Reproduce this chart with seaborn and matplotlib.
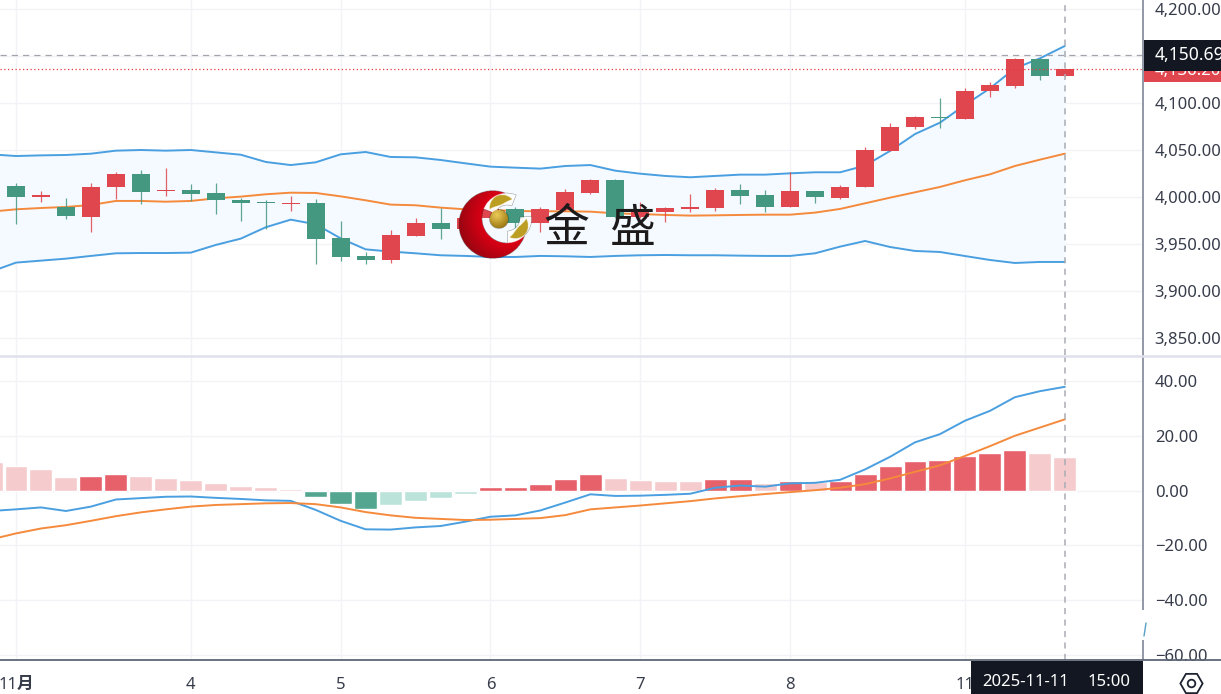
import numpy as np
import pandas as pd
import matplotlib
matplotlib.use('Agg')
import matplotlib.pyplot as plt
import seaborn as sns

W, H = 1221, 694
AXIS_X = 1143

# data
bar_idx = list(range(-1, 43))
opens = [4005, 4012.1, 4000.0, 3989.4, 3978.4, 4010.3, 4024.9, 4006.4, 4007.5, 4004.3, 3996.5,
         3994.4, 3992.2, 3994, 3956.4, 3937.3, 3933, 3958.9, 3972.4, 3966, 3977.3, 3987.3,
         3972.7, 3986.2, 4004.6, 4018.1, 3978.4, 3984, 3987.3, 3988.3, 4007.5, 4001.8,
         3989.7, 4006.4, 3999, 4010.3, 4049, 4074.1, 4085.1, 4083.4, 4112.8, 4118.5, 4146.5, 4128.8]
highs = [4012, 4014.6, 4006.4, 3998.6, 4014.6, 4026.3, 4028.4, 4030.9, 4013.5, 4014.6, 3998.6,
         3996.5, 4001.1, 3997.5, 3974.8, 3941.5, 3964.6, 3978, 3988, 3980, 3989, 3989,
         3989, 4008.5, 4018.8, 4019.2, 3995, 3989, 4003.2, 4010, 4013.5, 4007.5,
         4026.6, 4006.4, 4012.4, 4053.2, 4078.4, 4086.2, 4105.3, 4115.6, 4122.7, 4147.5, 4147.5, 4136.2]
lows = [4003, 3971.7, 3995.1, 3977.0, 3962.4, 3997.9, 3992.9, 4001.1, 3995.4, 3981.6, 3974.8,
        3966, 3985.1, 3928.4, 3931.6, 3929.1, 3929.5, 3958.9, 3955.3, 3964, 3975, 3965.6,
        3963.2, 3985.5, 4003.2, 3977.3, 3977.3, 3973.4, 3984, 3985.1, 3992.9, 3984,
        3989.7, 3994, 3997.5, 4010.3, 4049, 4072, 4073.8, 4082.7, 4106.8, 4116.3, 4124.1, 4128.8]
closes = [4011, 4000.0, 4001.8, 3979.5, 4011.0, 4024.9, 4005.7, 4007.5, 4003.6, 3996.8, 3993.3,
          3993.3, 3994, 3955.7, 3936.2, 3933, 3959.6, 3972.4, 3965.6, 3977.3, 3987.3, 3972,
          3987.3, 4005.3, 4018.1, 3978.4, 3984.4, 3988.3, 3989.4, 4007.5, 4001.1, 3989.7,
          4006.4, 4000, 4011, 4049.7, 4074.9, 4085.1, 4084.1, 4112.4, 4119.2, 4146.8, 4128.8, 4136.2]

boll_upper = [4045.4, 4043.6, 4044.3, 4044.7, 4046.1, 4049.3, 4050, 4049.3, 4050, 4047.5, 4045,
              4037.3, 4034, 4036.9, 4045.4, 4047.9, 4042.6, 4042.2, 4039.4, 4035.8, 4032.3, 4031.2,
              4030.2, 4033, 4034, 4028, 4024.8, 4022.4, 4021, 4022.4, 4023.8, 4023.8,
              4025.2, 4026.3, 4026.3, 4033.4, 4049, 4067, 4079.1, 4097.9, 4115.6, 4136.9, 4147.5, 4160.7]
boll_mid = [3984.4, 3986.9, 3988.3, 3989.4, 3991.5, 3995.8, 3995.8, 3995, 3995.8, 3998.6, 4000.4,
            4002.9, 4004.6, 4004.3, 4000.7, 3996.5, 3991.9, 3991.2, 3988.7, 3986.9, 3986.2, 3985.1,
            3984.8, 3984.8, 3984.4, 3982.6, 3981.9, 3980.9, 3980.2, 3980.5, 3980.9, 3981.2,
            3981.2, 3983.4, 3987.3, 3993.3, 3999.3, 4005, 4010.7, 4017.8, 4024.1, 4033, 4039.7, 4046.1]
boll_lower = [3920.6, 3930.2, 3932.3, 3934.4, 3937.3, 3940.1, 3940.4, 3940.4, 3940.8, 3949, 3955.7,
              3967.8, 3975.9, 3971, 3956, 3944.3, 3941.9, 3940.1, 3938, 3937.3, 3936.2, 3936.2,
              3937.3, 3936.9, 3936.2, 3937.3, 3938, 3938.3, 3938, 3938, 3937.6, 3937.3,
              3937.3, 3940.1, 3947.2, 3953.2, 3946.8, 3942.6, 3941.5, 3937.2, 3933, 3929.8, 3930.9, 3930.9]

macd_hist = [10.4, 9.0, 7.9, 5.1, 5.5, 6.3, 5.5, 4.6, 3.9, 2.8, 1.9,
             1.2, 0.8, -2.3, -5.0, -6.5, -5.2, -3.8, -2.7, -1.2, 1.3, 1.35,
             2.6, 4.4, 6.3, 4.6, 3.9, 3.5, 3.4, 4.2, 4.25, 3.0,
             3.6, 3.3, 3.5, 6.3, 9.0, 10.9, 11.4, 12.8, 13.7, 14.8, 13.7, 12.5]
dif = [-7.4, -6.8, -6.1, -7.4, -5.8, -3.2, -2.7, -2.2, -2.1, -2.6, -3.0,
       -3.5, -3.7, -7.0, -11.0, -14.1, -14.2, -13.4, -12.9, -11.3, -9.5, -9.0,
       -7.2, -4.3, -1.3, -1.9, -1.8, -1.5, -1.1, 1.1, 1.9, 1.5,
       2.7, 2.9, 4.0, 7.8, 12.4, 17.7, 20.7, 25.6, 29.2, 34.2, 36.4, 38.0]
dea = [-17.8, -15.6, -13.8, -12.6, -11, -9.3, -7.9, -6.8, -5.8, -5.2, -4.9,
       -4.6, -4.5, -4.9, -6.1, -7.8, -9, -9.9, -10.3, -10.7, -10.6, -10.3,
       -10, -8.9, -6.8, -6.1, -5.4, -4.6, -3.8, -2.8, -2, -1.2,
       -0.5, 0.2, 1.1, 2.4, 4.5, 6.9, 9.3, 12.7, 16.3, 20.1, 23.1, 26.1]

price_ticks = [3850, 3900, 3950, 4000, 4050, 4100, 4150, 4200]
macd_ticks = [-60, -40, -20, 0, 20, 40]
day_pos = [0, 7, 13, 19, 25, 31, 38]
day_labels = ['11月', '4', '5', '6', '7', '8', '11']
cross_price = 4150.69
last_price = closes[-1]
cross_time = '2025-11-11'
cross_clock = '15:00'

RED = '#e0464e'
GREEN = '#449880'
BLUE = '#4a9fe0'
ORANGE = '#f58a3c'
GRID = '#f1f3f6'
TEXT = '#363c4a'
DARK = '#131722'

sns.set_style('white')
plt.rcParams['font.family'] = ['Noto Sans', 'Noto Sans CJK SC', 'DejaVu Sans']

fig = plt.figure(figsize=(W / 100, H / 100), dpi=100)


def px_axes(top, bottom):
    return fig.add_axes([0, 1 - bottom / H, AXIS_X / W, (bottom - top) / H])


ax = px_axes(0, 355)
ax2 = px_axes(357, 659.5)

# upper panel
ax.fill_between(bar_idx, boll_lower, boll_upper, color='#f4faff', lw=0, zorder=1)
sns.lineplot(x=bar_idx, y=boll_upper, color=BLUE, lw=1.4, ax=ax, zorder=3)
sns.lineplot(x=bar_idx, y=boll_lower, color=BLUE, lw=1.4, ax=ax, zorder=3)
sns.lineplot(x=bar_idx, y=boll_mid, color=ORANGE, lw=1.4, ax=ax, zorder=3)

o = np.array(opens)
c = np.array(closes)
colors = [RED if b >= a else GREEN for a, b in zip(opens, closes)]
ax.vlines(bar_idx, lows, highs, colors=colors, lw=0.9, alpha=0.85, zorder=4)
ax.bar(bar_idx, np.abs(c - o), bottom=np.minimum(o, c), width=0.72, color=colors, lw=0, zorder=5)

ax.axhline(cross_price, color='#a2a5ad', lw=0.9, ls=(0, (5, 4)), zorder=6)
ax.axhline(last_price, color='#e8383f', lw=0.9, ls=(0, (1, 2)), zorder=6)
ax.set_xlim(-0.641, 45.13)
ax.set_ylim(3831.9, 4209.6)

# lower panel
shades = []
for i, v in enumerate(macd_hist):
    prev = macd_hist[i - 1] if i > 0 else v + 1
    if v >= 0:
        shades.append('up' if v > prev else 'up_fade')
    else:
        shades.append('down' if v < prev else 'down_fade')
hist_df = pd.DataFrame({'idx': bar_idx, 'hist': macd_hist, 'shade': shades})
sns.barplot(data=hist_df, x='idx', y='hist', hue='shade', native_scale=True, dodge=False,
            palette={'up': '#e6616a', 'up_fade': '#f5cbce', 'down': '#54a690', 'down_fade': '#bbe3da'},
            width=0.92, saturation=1, legend=False, ax=ax2, zorder=2)
sns.lineplot(x=bar_idx, y=dif, color=BLUE, lw=1.4, ax=ax2, zorder=3)
sns.lineplot(x=bar_idx, y=dea, color=ORANGE, lw=1.4, ax=ax2, zorder=3)
ax2.set_xlim(-0.641, 45.13)
ax2.set_ylim(-61.7, 48.9)

for a, ticks in ((ax, price_ticks), (ax2, macd_ticks)):
    a.set_axisbelow(True)
    a.grid(True, color=GRID, lw=1)
    a.set_xlabel('')
    a.set_ylabel('')
    a.axvline(42, color='#a9acb3', lw=1.1, ls=(0, (4, 3.5)), zorder=7)
    a.yaxis.tick_right()
    a.set_yticks(ticks)
    a.set_xticks(day_pos)
    a.tick_params(axis='y', length=0, pad=8.5, labelsize=12, labelcolor=TEXT)
    a.patch.set_alpha(0)
    for s in a.spines.values():
        s.set_visible(False)

ax.set_yticklabels([f'{v:,.2f}' for v in price_ticks])
ax.tick_params(axis='x', length=0, labelbottom=False)
ax2.set_yticklabels([f'{v:.2f}'.replace('-', '\u2212') for v in macd_ticks])
ax2.set_xticklabels(day_labels)
ax2.tick_params(axis='x', length=0, pad=12.5, labelsize=12, labelcolor=TEXT)
ax2.get_xticklabels()[0].set_fontweight('bold')

# overlay in pixels: tags, axis lines, logo
top = fig.add_axes([0, 0, 1, 1], zorder=10)
top.patch.set_alpha(0)
top.axis('off')

top.plot([AXIS_X, AXIS_X], [0, 610], color='#8a90a0', lw=1.3, solid_capstyle='butt')
top.plot([AXIS_X, AXIS_X], [640, 660], color='#8a90a0', lw=1.3, solid_capstyle='butt')
top.plot([0, W], [355.5, 355.5], color='#dfe0ec', lw=1.8)
top.plot([0, W], [659.8, 659.8], color='#5e6675', lw=1.3)
top.plot([1144, 1146], [636, 623], color='#5a9fc8', lw=1)

top.fill_between([AXIS_X + 1, W], 66, 81.5, color=RED, lw=0, zorder=2)
top.text(1155, 71, f'{last_price:,.2f}', color='white', fontsize=12, fontweight='bold', va='center', zorder=3)
top.fill_between([AXIS_X + 1, W], 39.5, 70.5, color=DARK, lw=0, zorder=4)
top.text(1155, 54.5, f'{cross_price:,.2f}', color='white', fontsize=12.6, fontweight='bold', va='center', zorder=5)

top.fill_between([970.5, AXIS_X], 660.5, 694, color=DARK, lw=0, zorder=4)
top.text(1026, 681.5, cross_time, color='white', fontsize=12, fontweight='bold', ha='center', va='center', zorder=5)
top.text(1109, 681.5, cross_clock, color='white', fontsize=12, fontweight='bold', ha='center', va='center', zorder=5)

top.plot([1191], [682.5], marker='H', ms=16, mfc='none', mec='#1d2330', mew=1.3)
top.plot([1191], [682.5], marker='o', ms=5.5, mfc='none', mec='#1d2330', mew=1.3)

# logo, built on a 3x pixel grid
x0, x1, y0, y1 = 455, 532, 187, 263
yy, xx = np.mgrid[y0:y1:(y1 - y0) * 3j, x0:x1:(x1 - x0) * 3j]
logo = np.zeros(xx.shape + (4,))
d_out = np.hypot(xx - 492.7, yy - 224.5)
d_in = np.hypot(xx - 507, yy - 218)
moon = (d_out <= 34) & (d_in >= 25)
t = np.clip((d_in - 25) / 33, 0, 1)[..., None]
moon_rgb = (1 - t) * np.array([0.86, 0.0, 0.08]) + t * np.array([0.50, 0.03, 0.06])
logo[moon, :3] = moon_rgb[moon]
logo[moon, 3] = 1

angle = np.degrees(np.arctan2(yy - 218, xx - 507))
for a0, a1 in ((-153, -74), (2, 82)):
    s = np.clip((angle - a0) / (a1 - a0), 0, 1)
    halo = (d_in < 25) & (d_in > 13) & (angle > a0 - 6) & (angle < a1 + 6)
    logo[halo, :3] = 1
    logo[halo, 3] = 0.95
    band = (np.abs(d_in - 19.5) <= 4.8 * np.sin(np.pi * s)) & (angle > a0) & (angle < a1)
    logo[band, :3] = [0.74, 0.62, 0.14]
    logo[band, 3] = 1

d_ball = np.hypot(xx - 499, yy - 219)
ball = d_ball <= 9.5
b = np.clip(np.hypot(xx - 497, yy - 215) / 13, 0, 1)[..., None]
ball_rgb = (1 - b) * np.array([0.93, 0.80, 0.35]) + b * np.array([0.62, 0.48, 0.08])
logo[ball, :3] = ball_rgb[ball]
logo[ball, 3] = 1
top.imshow(logo, extent=(x0, x1, y1, y0), aspect='auto', zorder=6, interpolation='bilinear')

top.text(566.5, 229, '金', fontsize=33, color='#1c1a1a', ha='center', va='center', zorder=6,
         family=['Noto Sans CJK SC'])
top.text(633, 229, '盛', fontsize=33, color='#1c1a1a', ha='center', va='center', zorder=6,
         family=['Noto Sans CJK SC'])

top.set_xlim(0, W)
top.set_ylim(H, 0)

plt.savefig('out.png', dpi=100)
